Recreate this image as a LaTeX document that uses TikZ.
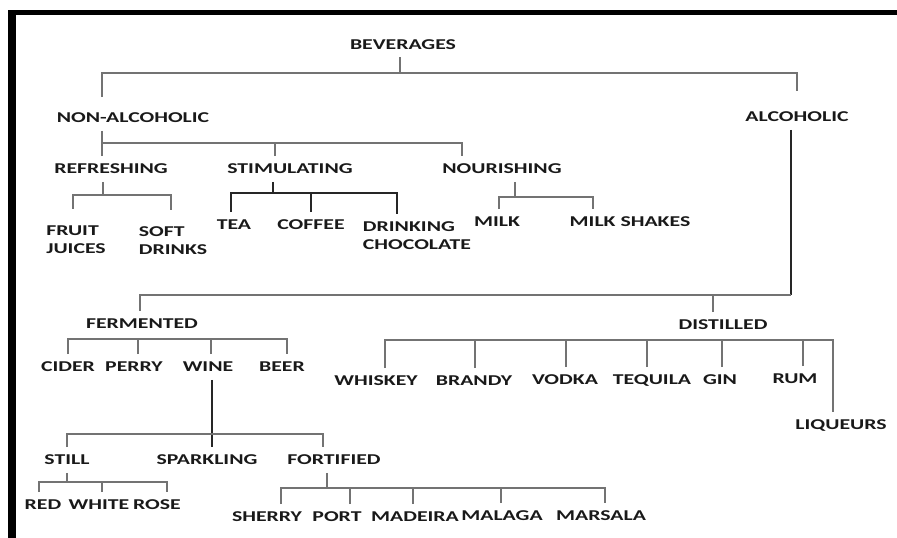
\documentclass[tikz,border=0pt]{standalone}
\usepackage{fontspec}
\newfontfamily\labfont{Carlito}[FakeStretch=1.45]

\begin{document}
\begin{tikzpicture}[x=1pt,y=-1pt,
  every node/.style={font=\labfont\bfseries\fontsize{15}{18}\selectfont, text=black!90,
    text height=9.5pt, text depth=0pt, inner xsep=0pt, inner ysep=8pt},
  twoline/.style={align=left, text height={}, text depth={}},
  lne/.style={draw=black!55, line width=1.2pt},
  dark/.style={draw=black!85, line width=1.4pt}]
\useasboundingbox (0,0) rectangle (897,538);
\fill (8,10) rectangle (897,15);
\fill (8,10) rectangle (16,538);

\node (bev) at (403,44.5) {BEVERAGES};
\node (nonalc) at (133,118) {NON-ALCOHOLIC};
\node (alc) at (797,117) {ALCOHOLIC};
\node (refr) at (111,169) {REFRESHING};
\node (stim) at (290,169) {STIMULATING};
\node (nour) at (502,169) {NOURISHING};
\node[twoline] (fruit) at (76,240) {FRUIT\\JUICES};
\node[twoline] (soft) at (173,241) {SOFT\\DRINKS};
\node (tea) at (234,225) {TEA};
\node (coffee) at (311,225) {COFFEE};
\node[twoline] (drink) at (417,236) {DRINKING\\CHOCOLATE};
\node (milk) at (497,222) {MILK};
\node (shakes) at (630,222) {MILK SHAKES};
\node (ferm) at (142,323.5) {FERMENTED};
\node (dist) at (723,325) {DISTILLED};
\node (cider) at (68,367) {CIDER};
\node (perry) at (134,367) {PERRY};
\node (wine) at (208,367) {WINE};
\node (beer) at (282,367) {BEER};
\node (whiskey) at (376,381) {WHISKEY};
\node (brandy) at (474,381) {BRANDY};
\node (vodka) at (565,380) {VODKA};
\node (tequila) at (652,380) {TEQUILA};
\node (gin) at (720,380) {GIN};
\node (rum) at (795,379) {RUM};
\node (liq) at (841,425) {LIQUEURS};
\node (still) at (67,460) {STILL};
\node (spark) at (207,460) {SPARKLING};
\node (fort) at (334,460) {FORTIFIED};
\node (red) at (43,505) {RED};
\node (white) at (99,505) {WHITE};
\node (rose) at (157,505) {ROSE};
\node (sherry) at (267,517) {SHERRY};
\node (port) at (337,517) {PORT};
\node (madeira) at (415,517) {MADEIRA};
\node (malaga) at (502,516) {MALAGA};
\node (marsala) at (601,516) {MARSALA};

\coordinate (bevbar) at (0,73);
\coordinate (nabar) at (0,143);
\coordinate (refrbar) at (0,195);
\coordinate (stimbar) at (0,193);
\coordinate (nourbar) at (0,197);
\coordinate (alcbar) at (0,295);
\coordinate (fermbar) at (0,339);
\coordinate (distbar) at (0,340);
\coordinate (winebar) at (0,434);
\coordinate (stillbar) at (0,482);
\coordinate (fortbar) at (0,488);

\draw[lne] ([xshift=-3pt]bev.south) -- ([xshift=-3pt]bev.south |- bevbar);
\draw[lne, shorten <=8pt, shorten >=13pt] ([xshift=-31pt]nonalc.north) |- (alc.north |- bevbar) -- (alc.north);

\draw[lne] ([xshift=-31pt]nonalc.south) -- ([xshift=-31pt]nonalc.south |- nabar);
\draw[lne] ([xshift=-9pt]refr.north) |- ([xshift=-40pt]nour.north |- nabar) -- ([xshift=-40pt]nour.north);
\draw[lne] ([xshift=-15pt]stim.north) -- ([xshift=-15pt]stim.north |- nabar);

\draw[lne] ([xshift=-8pt]refr.south) -- ([xshift=-8pt]refr.south |- refrbar);
\draw[lne, shorten <=9pt, shorten >=9pt] ([xshift=-3pt]fruit.north) |- ([xshift=-2pt]soft.north |- refrbar) -- ([xshift=-2pt]soft.north);

\draw[dark] ([xshift=-17pt]stim.south) -- ([xshift=-17pt]stim.south |- stimbar);
\draw[dark] ([xshift=-3pt]tea.north) |- ([xshift=-20pt]drink.north |- stimbar) -- ([xshift=-20pt]drink.north);
\draw[dark] (coffee.north) -- (coffee.north |- stimbar);

\draw[lne] ([xshift=13pt]nour.south) -- ([xshift=13pt]nour.south |- nourbar);
\draw[lne] ([xshift=2pt]milk.north) |- ([xshift=-37pt]shakes.north |- nourbar) -- ([xshift=-37pt]shakes.north);

\draw[dark] ([xshift=-6pt]alc.south) -- ([xshift=-6pt]alc.south |- alcbar);
\draw[lne] ([xshift=-2pt]ferm.north) |- ([xshift=-6pt]alc.south |- alcbar);
\draw[lne] ([xshift=-10pt]dist.north) -- ([xshift=-10pt]dist.north |- alcbar);

\draw[lne] (cider.north) |- ([xshift=5pt]beer.north |- fermbar) -- ([xshift=5pt]beer.north);
\draw[lne] ([xshift=4pt]perry.north) -- ([xshift=4pt]perry.north |- fermbar);
\draw[lne] ([xshift=3pt]wine.north) -- ([xshift=3pt]wine.north |- fermbar);

\draw[lne] ([xshift=9pt]whiskey.north) |- ([xshift=-8pt]liq.north |- distbar) -- ([xshift=-8pt]liq.north);
\draw[lne] ([xshift=1pt]brandy.north) -- ([xshift=1pt]brandy.north |- distbar);
\draw[lne] ([xshift=1pt]vodka.north) -- ([xshift=1pt]vodka.north |- distbar);
\draw[lne] ([xshift=-5pt]tequila.north) -- ([xshift=-5pt]tequila.north |- distbar);
\draw[lne] ([xshift=2pt]gin.north) -- ([xshift=2pt]gin.north |- distbar);
\draw[lne] ([xshift=8pt]rum.north) -- ([xshift=8pt]rum.north |- distbar);

\draw[dark] ([xshift=4pt]wine.south) -- ([xshift=4pt]wine.south |- spark.north);
\draw[lne] (still.north) |- ([xshift=-11pt]fort.north |- winebar) -- ([xshift=-11pt]fort.north);

\draw[lne] (still.south) -- (still.south |- stillbar);
\draw[lne] ([xshift=-4pt]red.north) |- ([xshift=10pt]rose.north |- stillbar) -- ([xshift=10pt]rose.north);
\draw[lne] ([xshift=3pt]white.north) -- ([xshift=3pt]white.north |- stillbar);

\draw[lne] ([xshift=-7pt]fort.south) -- ([xshift=-7pt]fort.south |- fortbar);
\draw[lne] ([xshift=14pt]sherry.north) |- ([xshift=4pt]marsala.north |- fortbar) -- ([xshift=4pt]marsala.north);
\draw[lne] ([xshift=13pt]port.north) -- ([xshift=13pt]port.north |- fortbar);
\draw[lne] ([xshift=-2pt]madeira.north) -- ([xshift=-2pt]madeira.north |- fortbar);
\draw[lne] ([xshift=-1pt]malaga.north) -- ([xshift=-1pt]malaga.north |- fortbar);
\end{tikzpicture}
\end{document}
